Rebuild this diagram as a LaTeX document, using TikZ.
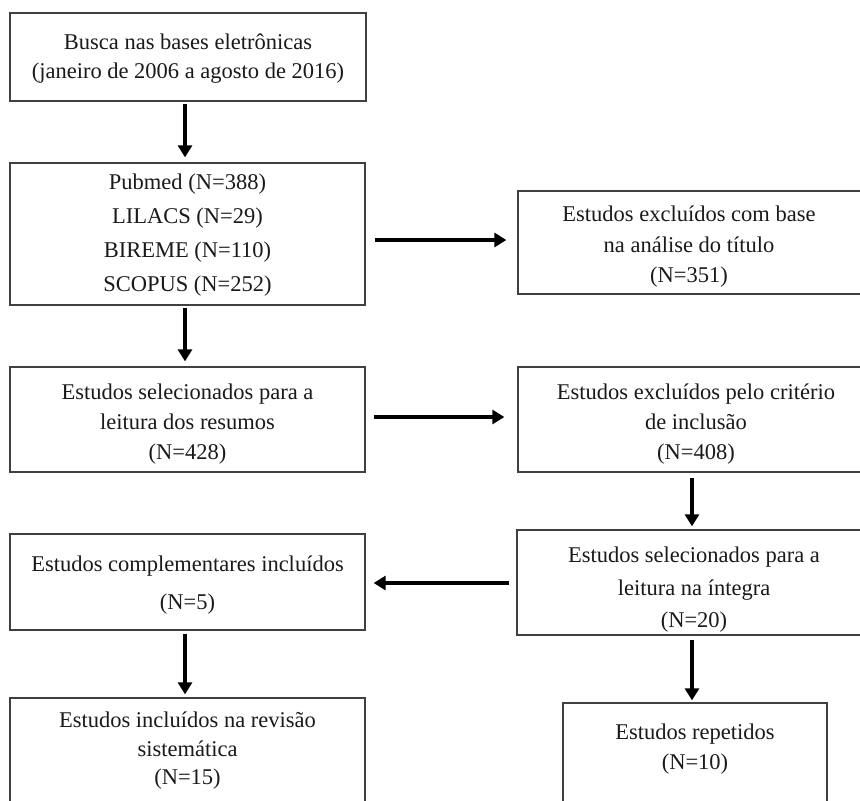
\documentclass[tikz,border=0pt]{standalone}
\usepackage{fontspec}
\setmainfont{Liberation Serif}
\usetikzlibrary{arrows.meta}
\definecolor{boxline}{HTML}{404040}
\definecolor{txtc}{HTML}{1A1A1A}
\begin{document}
\begin{tikzpicture}[x=1pt,y=-1pt,
  box/.style={draw=boxline, line width=1.3pt, rectangle, inner sep=0pt},
  plain/.style={inner sep=0pt, align=center, text=txtc},
  ls/.style={font=\fontsize{22.5}{#1}\selectfont},
  arr/.style={draw=black, line width=3.1pt, -{Triangle[length=12pt,width=14pt]}}]
\clip (0,0) rectangle (860,801);
\fill[white] (0,0) rectangle (860,801);

% left column
\node[box, minimum width=356pt, minimum height=88pt] (b1) at (188,57) {};
\node[plain, ls=29] (t1) at (188,59)
  {Busca nas bases eletrônicas\\(janeiro de 2006 a agosto de 2016)};
\node[box, minimum width=355pt, minimum height=142pt] (b2) at (187.5,234) {};
\node[plain, ls=34] (t2) at (187.5,235.5)
  {Pubmed (N=388)\\LILACS (N=29)\\BIREME (N=110)\\SCOPUS (N=252)};
\node[box, minimum width=355pt, minimum height=105pt] (b4) at (187.5,419.5) {};
\node[plain, ls=30] (t4) at (187.5,424)
  {Estudos selecionados para a\\leitura dos resumos\\(N=428)};
\node[box, minimum width=355pt, minimum height=96pt] (b7) at (187.5,582) {};
\node[plain, ls=38] (t7) at (187.5,585)
  {Estudos complementares incluídos\\(N=5)};
\node[box, minimum width=355pt, minimum height=106pt] (b8) at (187.5,751) {};
\node[plain, ls=28.5] (t8) at (187.5,751)
  {Estudos incluídos na revisão\\sistemática\\(N=15)};

% right column
\node[box, minimum width=362pt, minimum height=103pt] (b3) at (699,242.5) {};
\node[plain, ls=30.5] (t3) at (689,247)
  {Estudos excluídos com base\\na análise do título\\(N=351)};
\node[box, minimum width=362pt, minimum height=105pt] (b5) at (699,419.5) {};
\node[plain, ls=30] (t5) at (696,424)
  {Estudos excluídos pelo critério\\de inclusão\\(N=408)};
\node[box, minimum width=363pt, minimum height=105pt] (b6) at (698.5,582.5) {};
\node[plain, ls=32.5] (t6) at (694,590)
  {Estudos selecionados para a\\leitura na íntegra\\(N=20)};
\node[box, minimum width=264pt, minimum height=112pt] (b9) at (695,759) {};
\node[plain, ls=30] (t9) at (695,749.5) {Estudos repetidos\\(N=10)};

% connectors
\draw[arr, shorten <=2pt, shorten >=5pt] ([xshift=-3pt]b1.south) -- ([xshift=-2.5pt]b2.north);
\draw[arr, shorten <=2pt, shorten >=5pt] ([xshift=-2.5pt]b2.south) -- ([xshift=-2.5pt]b4.north);
\draw[arr, shorten <=9pt, shorten >=11pt] ([yshift=-6pt]b2.east) -- ([yshift=2.5pt]b3.west);
\draw[arr, shorten <=8pt, shorten >=13pt] ([yshift=2.5pt]b4.east) -- ([yshift=2.5pt]b5.west);
\draw[arr, shorten <=5pt, shorten >=3pt] ([xshift=-7pt]b5.south) -- ([xshift=-6.5pt]b6.north);
\draw[arr, shorten <=7pt, shorten >=8pt] ([yshift=-0.5pt]b6.west) -- ([yshift=-1pt]b7.east);
\draw[arr, shorten <=3pt, shorten >=3pt] ([xshift=-2.5pt]b7.south) -- ([xshift=-2.5pt]b8.north);
\draw[arr, shorten <=4pt, shorten >=2pt] ([xshift=-6.5pt]b6.south) -- ([xshift=-3pt]b9.north);
\end{tikzpicture}
\end{document}
